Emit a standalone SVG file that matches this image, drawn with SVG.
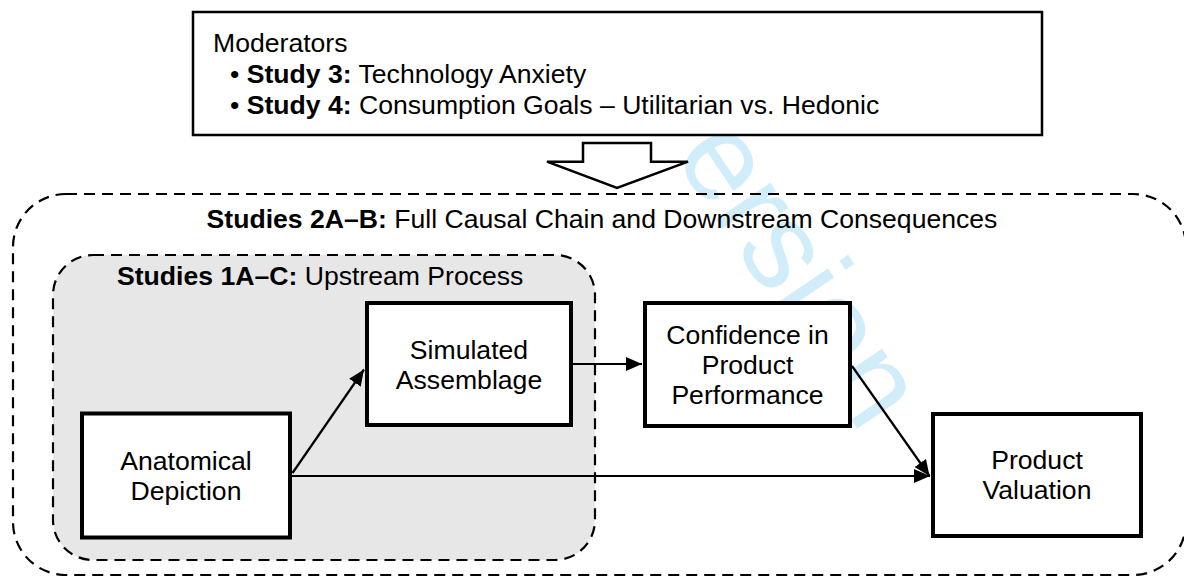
<svg xmlns="http://www.w3.org/2000/svg" width="1184" height="576" viewBox="0 0 1184 576">
  <defs>
    <style>
      text { font-family: "Liberation Sans", Arial, Helvetica, sans-serif; font-size: 26.6px; fill: #000; }
      .b { font-weight: bold; }
      .mid { text-anchor: middle; }
      .node { fill: #fff; stroke: #000; stroke-width: 4; }
      .frame { fill: #fff; stroke: #000; stroke-width: 2.5; }
      .group { stroke: #000; stroke-width: 2.2; stroke-dasharray: 11 7; }
      .edge { stroke: #000; stroke-width: 2.2; fill: none; marker-end: url(#head); }
      .mark { font-size: 124px; fill: #d2edfa; }
    </style>
    <marker id="head" markerUnits="userSpaceOnUse" markerWidth="16" markerHeight="14" refX="16" refY="7" orient="auto">
      <path d="M0,0 L16,7 L0,14 z" fill="#000"/>
    </marker>
  </defs>

  <rect width="1184" height="576" fill="#fff"/>

  <!-- background stamp, sits under every panel -->
  <text class="mark" transform="translate(638,104) rotate(56)">version</text>

  <!-- moderators panel with block arrow -->
  <g id="moderators">
    <rect class="frame" x="193" y="12" width="849" height="123"/>
    <text x="213" y="52">Moderators</text>
    <text x="230" y="83">• <tspan class="b">Study 3:</tspan> Technology Anxiety</text>
    <text x="230" y="114">• <tspan class="b">Study 4:</tspan> Consumption Goals – Utilitarian vs. Hedonic</text>
  </g>
  <g id="moderation-arrow">
    <polygon class="frame" points="583,143 651,143 651,161.7 688,161.7 617,188 547,161.7 583,161.7"/>
  </g>

  <!-- study scopes -->
  <g id="studies-2">
    <rect class="group" x="13" y="194" width="1173" height="381" rx="53" ry="53" fill="none"/>
    <text class="mid" x="602" y="228"><tspan class="b">Studies 2A–B:</tspan> Full Causal Chain and Downstream Consequences</text>
  </g>
  <g id="studies-1">
    <rect class="group" x="53" y="255" width="542" height="305" rx="40" ry="40" fill="#e7e7e7"/>
    <text x="117" y="285"><tspan class="b">Studies 1A–C:</tspan> Upstream Process</text>
  </g>

  <!-- connectors -->
  <g id="connectors">
    <line class="edge" x1="292.5" y1="473" x2="364" y2="369.5"/>
    <line class="edge" x1="573" y1="364" x2="642" y2="364"/>
    <line class="edge" x1="852" y1="366" x2="929.5" y2="476"/>
    <line class="edge" x1="292" y1="476" x2="930" y2="476"/>
  </g>

  <!-- nodes -->
  <g id="anatomical-depiction">
    <rect class="node" x="82" y="413.5" width="208" height="124"/>
    <text class="mid" x="186" y="470">Anatomical</text>
    <text class="mid" x="186" y="500">Depiction</text>
  </g>
  <g id="simulated-assemblage">
    <rect class="node" x="367" y="303" width="204" height="122"/>
    <text class="mid" x="469" y="359">Simulated</text>
    <text class="mid" x="469" y="389">Assemblage</text>
  </g>
  <g id="confidence">
    <rect class="node" x="645" y="303" width="205" height="123"/>
    <text class="mid" x="747.5" y="344">Confidence in</text>
    <text class="mid" x="747.5" y="374">Product</text>
    <text class="mid" x="747.5" y="404">Performance</text>
  </g>
  <g id="product-valuation">
    <rect class="node" x="933" y="414" width="208" height="122"/>
    <text class="mid" x="1037" y="468.5">Product</text>
    <text class="mid" x="1037" y="498.5">Valuation</text>
  </g>
</svg>
